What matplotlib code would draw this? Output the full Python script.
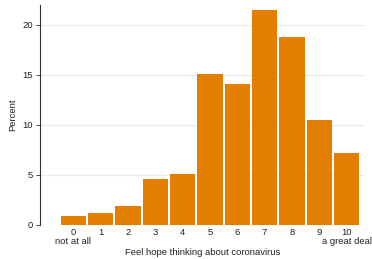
import matplotlib
matplotlib.use("Agg")
from matplotlib import pyplot as plt

# values
scores = [0, 1, 2, 3, 4, 5, 6, 7, 8, 9, 10]
percent = [0.85, 1.15, 1.85, 4.55, 5.05, 15.1, 14.1, 21.5, 18.8, 10.5, 7.15]
xlabels = ["0\nnot at all", "1", "2", "3", "4", "5", "6", "7", "8", "9",
           "10\na great deal"]
yticks = [0, 5, 10, 15, 20]

plt.rcParams['font.family'] = ['Liberation Sans', 'DejaVu Sans']
plt.rcParams['font.size'] = 6.8

fig = plt.figure(figsize=(3.72, 2.59), dpi=100)
ax = fig.add_axes([0.1075, 0.133, 0.874, 0.848])

ax.bar(scores, percent, width=0.93, color='#E37E00', zorder=3)

ax.set_xlim(-1.22, 10.68)
ax.set_ylim(0, 22)
ax.set_yticks(yticks)
ax.set_xticks(scores)
ax.set_xticklabels(xlabels, linespacing=0.95)
ax.yaxis.grid(True, color='#EAEAEA', linewidth=0.8, zorder=0)

for side in ['top', 'right', 'bottom']:
    ax.spines[side].set_visible(False)
ax.spines['left'].set_color('#333333')
ax.spines['left'].set_linewidth(0.8)

ax.tick_params(axis='y', length=3, width=0.6, color='#333333', pad=2,
               labelcolor='#222222')
ax.tick_params(axis='x', length=0, pad=2.5, labelcolor='#222222')

ax.set_ylabel('Percent', labelpad=4, color='#222222')
ax.set_xlabel('Feel hope thinking about coronavirus', labelpad=1.5, color='#222222')

fig.savefig('out.png', dpi=100)
